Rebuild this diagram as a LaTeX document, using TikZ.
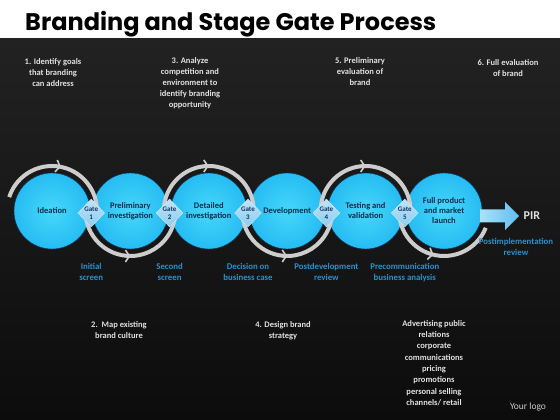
\documentclass[tikz,border=0pt]{standalone}
\usepackage{fontspec}
\setmainfont{Carlito}
\newfontfamily\titlefont{Poppins}
\usetikzlibrary{
    positioning,
    arrows.meta,
    calc,
    shapes.geometric,
    decorations.markings
}
\definecolor{slideDark}{RGB}{34, 34, 34}
\definecolor{slideDarker}{RGB}{12, 12, 12}
\definecolor{stageInner}{RGB}{70, 215, 250}
\definecolor{stageMid}{RGB}{35, 185, 242}
\definecolor{stageOuter}{RGB}{20, 150, 225}
\definecolor{stageRim}{RGB}{10, 95, 170}
\definecolor{stageText}{RGB}{10, 45, 75}
\definecolor{gateFill}{RGB}{140, 205, 240}
\definecolor{gateText}{RGB}{20, 55, 95}
\definecolor{ringGray}{RGB}{205, 205, 205}
\definecolor{labelBlue}{RGB}{40, 145, 205}
\definecolor{noteGray}{RGB}{225, 225, 225}
\definecolor{pirLight}{RGB}{170, 225, 250}
\definecolor{pirDeep}{RGB}{95, 190, 240}
\pgfdeclareradialshading{stageball}{\pgfpoint{0bp}{0bp}}{color(0bp)=(stageInner);
    color(28bp)=(stageMid); color(44bp)=(stageOuter); color(50bp)=(stageRim); color(70bp)=(stageRim)}

\begin{document}
\begin{tikzpicture}[x=1pt, y=1pt,
    stage/.style={circle, minimum size=76pt, inner sep=0pt, shading=stageball,
        draw=stageRim!60!black, text=stageText,
        font=\fontsize{8.5}{10}\selectfont\bfseries, align=center},
    gate/.style={diamond, minimum width=26pt, minimum height=28pt, inner sep=0pt,
        top color=gateFill!55!white, bottom color=gateFill, draw=gateFill!40!white,
        text=gateText, font=\fontsize{7}{8.5}\selectfont\bfseries, align=center},
    ring/.style={draw=ringGray, line width=4pt, postaction=decorate,
        decoration={markings, mark=at position 0.5 with
            {\arrow[ringGray]{Straight Barb[length=4pt, width=12pt, line width=1.6pt]}}}},
    note/.style={text=noteGray, font=\fontsize{8.5}{11}\selectfont\bfseries, align=center},
    sublabel/.style={text=labelBlue, font=\fontsize{8.8}{10.5}\selectfont\bfseries, align=center}]
    \useasboundingbox (0,0) rectangle (560,420);
    % slide background
    \shade[top color=slideDark, bottom color=slideDarker] (0,0) rectangle (560,382);
    \fill[white] (0,382) rectangle (560,420);
    \node[anchor=base west, inner sep=0pt, font=\titlefont\fontsize{24}{24}\selectfont\bfseries] (title)
        at (25,389) {Branding and Stage Gate Process};

    % stages
    \node[stage] (s1) at (52,209) {Ideation};
    \node[stage, right=2pt of s1] (s2) {Preliminary\\investigation};
    \node[stage, right=2pt of s2] (s3) {Detailed\\investigation};
    \node[stage, right=2pt of s3] (s4) {Development};
    \node[stage, right=2pt of s4] (s5) {Testing and\\validation};
    \node[stage, right=2pt of s5] (s6) {Full product\\and market\\launch};

    % loops round the stages
    \draw[ring] (s1.center) ++(162:45pt) arc[start angle=162, end angle=-5, radius=45pt];
    \draw[ring] (s2.center) ++(175:45pt) arc[start angle=175, end angle=365, radius=45pt];
    \draw[ring] (s3.center) ++(185:45pt) arc[start angle=185, end angle=-5, radius=45pt];
    \draw[ring] (s4.center) ++(175:45pt) arc[start angle=175, end angle=365, radius=45pt];
    \draw[ring] (s5.center) ++(185:45pt) arc[start angle=185, end angle=-5, radius=45pt];
    \draw[ring] (s6.center) ++(175:45pt) arc[start angle=175, end angle=338, radius=45pt];

    % gates
    \node[gate, yshift=-2pt] (g1) at ($(s1.east)!0.5!(s2.west)$) {Gate\\1};
    \node[gate, yshift=-2pt] (g2) at ($(s2.east)!0.5!(s3.west)$) {Gate\\2};
    \node[gate, yshift=-2pt] (g3) at ($(s3.east)!0.5!(s4.west)$) {Gate\\3};
    \node[gate, yshift=-2pt] (g4) at ($(s4.east)!0.5!(s5.west)$) {Gate\\4};
    \node[gate, yshift=-2pt] (g5) at ($(s5.east)!0.5!(s6.west)$) {Gate\\5};

    % PIR arrow
    \coordinate (pirtail) at ($(s6.east)+(-2pt,-5pt)$);
    \coordinate (pirtip) at ($(pirtail)+(39pt,0pt)$);
    \shade[left color=pirLight, right color=pirDeep] ($(pirtail)+(0,6.5)$) -- ++(25,0) -- ++(0,7.5)
        -- (pirtip) -- ++(-14,-14) -- ++(0,7.5) -- ++(-25,0) -- cycle;
    \node[right=1pt of pirtip, text=noteGray, font=\fontsize{12}{12}\selectfont\bfseries] (pir) {PIR};

    % gate outcomes
    \node[sublabel, below=33pt of g1] (l1) {Initial\\screen};
    \node[sublabel, below=33pt of g2] (l2) {Second\\screen};
    \node[sublabel, below=33pt of g3] (l3) {Decision on\\business case};
    \node[sublabel, below=33pt of g4] (l4) {Postdevelopment\\review};
    \node[sublabel, below=33pt of g5] (l5) {Precommunication\\business analysis};
    \node[sublabel] (l6) at (516,173) {Postimplementation\\review};

    % branding steps
    \node[note] (n1) at (53,347) {1. Identify goals\\that branding\\can address};
    \node[note] (n3) at (190,337) {3. Analyze\\competition and\\environment to\\identify branding\\opportunity};
    \node[note] (n5) at (360,348) {5. Preliminary\\evaluation of\\brand};
    \node[note] (n6) at (508,352) {6. Full evaluation\\of brand};
    \node[note] (n2) at (119,90) {2.\ \ Map existing\\brand culture};
    \node[note] (n4) at (283,89) {4. Design brand\\strategy};
    \node[note, font=\fontsize{8.5}{11.3}\selectfont\bfseries] (mix) at (434,57)
        {Advertising public\\relations\\corporate\\communications\\pricing\\promotions\\personal selling\\channels/ retail};
    \node[text=noteGray!90!black, font=\fontsize{9.5}{9.5}\selectfont] (logo) at (528,13) {Your logo};
\end{tikzpicture}
\end{document}
